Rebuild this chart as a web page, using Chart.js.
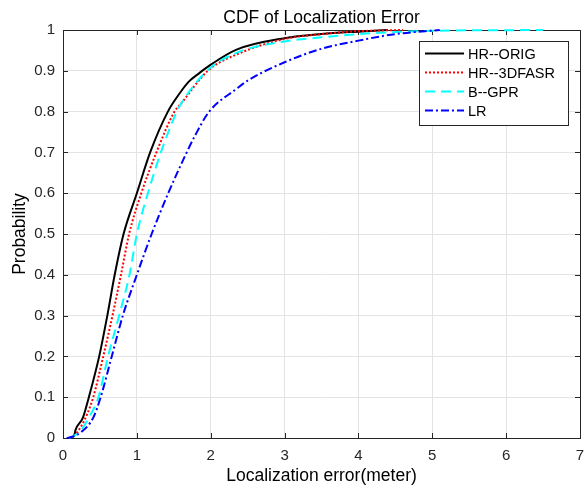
<!DOCTYPE html>
<html>
<head>
<meta charset="utf-8">
<script src="https://cdn.jsdelivr.net/npm/chart.js@4/dist/chart.umd.min.js"></script>
<style>
    html, body { margin: 0; padding: 0; background: #fff; }
    #wrap { width: 584px; height: 491px; }
</style>
</head>
<body>
<div id="wrap"><canvas id="cdfChart" width="584" height="491"></canvas></div>
<script>
// Localization error (meter) vs cumulative probability
const origErr  = [0.10, 0.15, 0.17, 0.27, 0.35, 0.49, 0.60, 0.70, 0.82, 1.00, 1.18, 1.42, 1.58, 1.70, 1.85, 2.00, 2.35, 3.00, 3.50, 4.00, 4.40];
const origProb = [0, 0.005, 0.02, 0.05, 0.10, 0.20, 0.30, 0.40, 0.50, 0.60, 0.70, 0.80, 0.845, 0.873, 0.895, 0.915, 0.952, 0.980, 0.990, 0.996, 1];

const fasrErr  = [0.10, 0.16, 0.25, 0.33, 0.41, 0.545, 0.67, 0.785, 0.895, 1.06, 1.265, 1.51, 1.60, 1.96, 2.35, 3.00, 3.50, 4.00, 4.60];
const fasrProb = [0, 0.007, 0.03, 0.06, 0.10, 0.20, 0.30, 0.40, 0.50, 0.60, 0.70, 0.80, 0.82, 0.90, 0.94, 0.978, 0.990, 0.997, 1];

const gprErr  = [0.08, 0.15, 0.25, 0.35, 0.48, 0.61, 0.76, 0.90, 1.00, 1.15, 1.325, 1.54, 1.60, 1.95, 2.35, 3.00, 3.50, 4.00, 4.50, 5.00, 6.50];
const gprProb = [0, 0.005, 0.02, 0.05, 0.10, 0.20, 0.30, 0.40, 0.50, 0.60, 0.70, 0.80, 0.82, 0.90, 0.944, 0.972, 0.982, 0.990, 0.995, 0.998, 1];

const lrErr  = [0.05, 0.12, 0.25, 0.41, 0.51, 0.66, 0.81, 1.00, 1.20, 1.425, 1.675, 1.79, 1.98, 2.35, 2.50, 3.00, 3.50, 4.00, 4.50, 5.10];
const lrProb = [0, 0.003, 0.015, 0.05, 0.10, 0.20, 0.30, 0.40, 0.50, 0.60, 0.70, 0.742, 0.80, 0.856, 0.876, 0.921, 0.954, 0.974, 0.990, 1];

const seriesNames = ['HR--ORIG', 'HR--3DFASR', 'B--GPR', 'LR'];
const xTicks = [0, 1, 2, 3, 4, 5, 6, 7];
const yTicks = [0, 0.1, 0.2, 0.3, 0.4, 0.5, 0.6, 0.7, 0.8, 0.9, 1];

const FONT = '"Liberation Sans", Arial, Helvetica, sans-serif';
const AXIS_COLOR = '#262626';

function toPoints(xs, ys) {
    return xs.map((x, i) => ({ x: x, y: ys[i] }));
}

function makeSeries(name, xs, ys, color, dash, order) {
    return {
        label: name,
        data: toPoints(xs, ys),
        borderColor: color,
        backgroundColor: color,
        borderWidth: 2,
        borderDash: dash,
        pointRadius: 0,
        showLine: true,
        cubicInterpolationMode: 'monotone',
        clip: 3,
        order: order
    };
}

// MATLAB style: axes box with inward ticks under the lines, title and legend on top
const matlabFrame = {
    id: 'matlabFrame',
    beforeDatasetsDraw(chart) {
        const { ctx, chartArea: a, scales: { x, y } } = chart;
        ctx.save();
        ctx.strokeStyle = AXIS_COLOR;
        ctx.lineWidth = 1;
        ctx.setLineDash([]);
        ctx.beginPath();
        xTicks.forEach(v => {
            const px = Math.round(x.getPixelForValue(v)) + 0.5;
            ctx.moveTo(px, a.bottom); ctx.lineTo(px, a.bottom - 5);
            ctx.moveTo(px, a.top); ctx.lineTo(px, a.top + 5);
        });
        yTicks.forEach(v => {
            const py = Math.round(y.getPixelForValue(v)) + 0.5;
            ctx.moveTo(a.left, py); ctx.lineTo(a.left + 5, py);
            ctx.moveTo(a.right, py); ctx.lineTo(a.right - 5, py);
        });
        ctx.stroke();
        ctx.strokeRect(Math.round(a.left) + 0.5, Math.round(a.top) + 0.5,
            Math.round(a.right - a.left), Math.round(a.bottom - a.top));
        ctx.restore();
    },
    afterDraw(chart) {
        const { ctx, chartArea: a } = chart;
        ctx.save();

        // title, centred over the plot area
        ctx.fillStyle = '#000';
        ctx.font = '17.5px ' + FONT;
        ctx.textAlign = 'center';
        ctx.textBaseline = 'alphabetic';
        ctx.fillText('CDF of Localization Error', (a.left + a.right) / 2, 23);

        // legend
        const lx = 419, ly = 41, lw = 149, lh = 84;
        ctx.fillStyle = '#fff';
        ctx.fillRect(lx, ly, lw, lh);
        ctx.strokeStyle = AXIS_COLOR;
        ctx.lineWidth = 1;
        ctx.setLineDash([]);
        ctx.strokeRect(lx + 0.5, ly + 0.5, lw, lh);
        ctx.font = '14.5px ' + FONT;
        ctx.textAlign = 'left';
        ctx.textBaseline = 'middle';
        chart.data.datasets.forEach((ds, i) => {
            const rowY = ly + 12.5 + i * 19;
            ctx.strokeStyle = ds.borderColor;
            ctx.lineWidth = 2;
            ctx.setLineDash(ds.borderDash);
            ctx.beginPath();
            ctx.moveTo(lx + 6, rowY);
            ctx.lineTo(lx + 45, rowY);
            ctx.stroke();
            ctx.fillStyle = '#000';
            ctx.fillText(ds.label, lx + 49, rowY + 1);
        });
        ctx.restore();
    }
};

new Chart(document.getElementById('cdfChart'), {
    type: 'scatter',
    data: {
        datasets: [
            makeSeries(seriesNames[0], origErr, origProb, '#000000', [], 3),
            makeSeries(seriesNames[1], fasrErr, fasrProb, '#ff0000', [2, 2], 2),
            makeSeries(seriesNames[2], gprErr, gprProb, '#00ffff', [10, 6], 1),
            makeSeries(seriesNames[3], lrErr, lrProb, '#0000ff', [8, 3, 2, 3], 0)
        ]
    },
    options: {
        responsive: false,
        animation: false,
        devicePixelRatio: 1,
        layout: { padding: { top: 30, right: 4, left: 0, bottom: 0 } },
        plugins: {
            legend: { display: false },
            title: { display: false },
            tooltip: { enabled: false }
        },
        scales: {
            x: {
                type: 'linear',
                min: 0,
                max: 7,
                afterFit: scale => {
                    scale.height = 53;
                    scale.paddingLeft = 0;
                    scale.paddingRight = 0;
                },
                afterBuildTicks: scale => { scale.ticks = xTicks.map(v => ({ value: v })); },
                grid: { color: '#e3e3e3', drawTicks: false },
                border: { display: false },
                ticks: {
                    padding: 9,
                    color: AXIS_COLOR,
                    font: { family: FONT, size: 15 },
                    maxRotation: 0
                },
                title: {
                    display: true,
                    text: 'Localization error(meter)',
                    color: '#000',
                    font: { family: FONT, size: 17.5 },
                    padding: { top: 0, bottom: 4 }
                }
            },
            y: {
                type: 'linear',
                min: 0,
                max: 1,
                afterFit: scale => { scale.width = 63; },
                afterBuildTicks: scale => { scale.ticks = yTicks.map(v => ({ value: v })); },
                grid: { color: '#e3e3e3', drawTicks: false },
                border: { display: false },
                ticks: {
                    padding: 8,
                    color: AXIS_COLOR,
                    font: { family: FONT, size: 15 },
                    callback: value => String(Number(value.toFixed(1)))
                },
                title: {
                    display: true,
                    text: 'Probability',
                    color: '#000',
                    font: { family: FONT, size: 17.5 },
                    padding: { top: 10, bottom: 0 }
                }
            }
        }
    },
    plugins: [matlabFrame]
});
</script>
</body>
</html>
